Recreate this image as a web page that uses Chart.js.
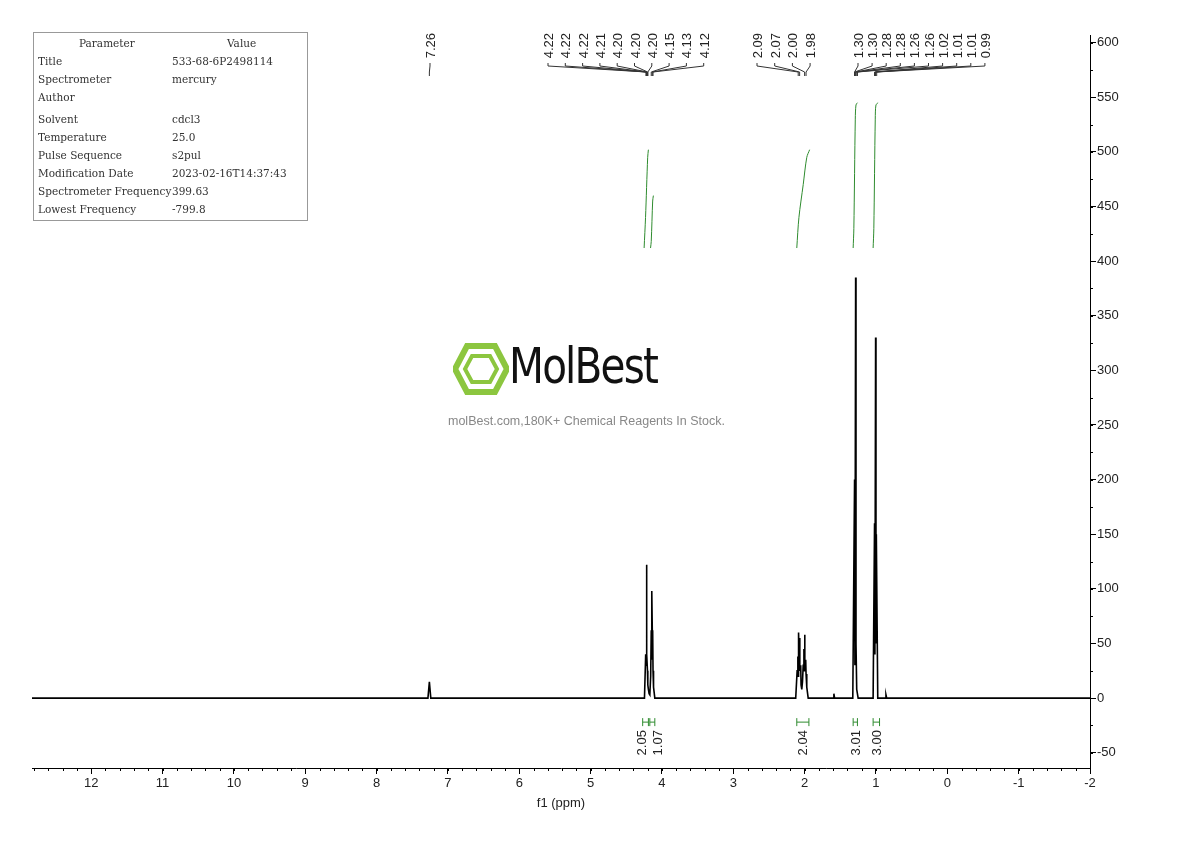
<!DOCTYPE html>
<html>
<head>
<meta charset="utf-8">
<script src="https://cdn.jsdelivr.net/npm/chart.js@4"></script>
<style>
  body { margin: 0; background: #fff; }
  #wrap { position: relative; width: 1190px; height: 841px; }
  #params { position: absolute; left: 33px; top: 32px; width: 275px; height: 189px; border: 1px solid #999;
    font-family: "DejaVu Serif", "Liberation Serif", serif; font-size: 10.5px; color: #333; box-sizing: border-box; }
  #params div { position: absolute; white-space: nowrap; }
  #logo { position: absolute; left: 453px; top: 343px; font-family: "DejaVu Sans Condensed", "Liberation Sans Narrow", sans-serif; }
  #slogan { position: absolute; left: 448px; top: 414px; font-family: "Liberation Sans", Arial, sans-serif; font-size: 12.5px; color: #888; }
</style>
</head>
<body>
<div id="wrap">
  <canvas id="grafico" width="1190" height="841"></canvas>
  <div id="params"></div>
  <div id="logo">
    <svg width="56" height="52" viewBox="0 0 56 52" style="position:absolute;left:0;top:0">
      <polygon points="14,3 42,3 54,26 42,49 14,49 2,26" fill="none" stroke="#8cc63f" stroke-width="6"/>
      <polygon points="19,13 37,13 44,26 37,39 19,39 12,26" fill="none" stroke="#8cc63f" stroke-width="4"/>
    </svg>
    <div style="position:absolute;left:56px;top:-6px;font-size:50px;letter-spacing:-2px;color:#111;transform:scaleX(0.9);transform-origin:left top;white-space:nowrap">MolBest</div>
  </div>
  <div id="slogan">molBest.com,180K+ Chemical Reagents In Stock.</div>
</div>
<script>
// Tabela de parâmetros
const PARAMETROS = [
  ["Title", "533-68-6P2498114"],
  ["Spectrometer", "mercury"],
  ["Author", ""],
  ["Solvent", "cdcl3"],
  ["Temperature", "25.0"],
  ["Pulse Sequence", "s2pul"],
  ["Modification Date", "2023-02-16T14:37:43"],
  ["Spectrometer Frequency", "399.63"],
  ["Lowest Frequency", "-799.8"],
];

// Espectro: deslocamento (ppm) e intensidade
const ESPECTRO_PPM = [12.83, 7.28, 7.26, 7.24, 4.245, 4.228, 4.222, 4.218, 4.214, 4.21, 4.203, 4.198, 4.19, 4.18, 4.17, 4.158, 4.15, 4.145, 4.14, 4.135, 4.13, 4.125, 4.118, 4.10,
  2.125, 2.105, 2.095, 2.09, 2.085, 2.075, 2.07, 2.065, 2.055, 2.05, 2.04, 2.03, 2.02, 2.01, 2.005, 2.00, 1.995, 1.985, 1.98, 1.97, 1.95, 1.60, 1.59, 1.58,
  1.325, 1.30, 1.295, 1.285, 1.28, 1.27, 1.25, 1.04, 1.02, 1.015, 1.005, 1.00, 0.995, 0.975, 0.87, 0.86, 0.85, -2];
const ESPECTRO_INT = [0, 0, 15, 0, 0, 40, 30, 122, 118, 40, 25, 12, 8, 4, 3, 20, 62, 35, 98, 60, 62, 25, 10, 0,
  0, 25, 38, 20, 60, 30, 55, 25, 30, 12, 8, 15, 30, 45, 25, 58, 30, 35, 22, 10, 0, 0, 4, 0,
  0, 200, 30, 385, 50, 8, 0, 0, 160, 40, 330, 50, 150, 0, 0, 3, 0, 0];

// Curvas de integração
const INTEGRAIS = [
  { ppm: [4.25, 4.23, 4.20, 4.19], y: [412, 440, 495, 502] },
  { ppm: [4.16, 4.15, 4.13, 4.12], y: [412, 418, 455, 460] },
  { ppm: [2.11, 2.08, 2.02, 1.97, 1.93], y: [412, 440, 470, 495, 502] },
  { ppm: [1.32, 1.31, 1.29, 1.28, 1.26], y: [412, 430, 530, 543, 545] },
  { ppm: [1.04, 1.03, 1.01, 1.00, 0.97], y: [412, 430, 530, 543, 545] },
];
const INTEGRAL_ROTULOS = ["2.05", "1.07", "2.04", "3.01", "3.00"];
const INTEGRAL_PPM = [4.29, 4.07, 2.03, 1.29, 1.00];
const INTEGRAL_FAIXA = [[4.27, 4.19], [4.17, 4.10], [2.11, 1.94], [1.32, 1.26], [1.04, 0.95]];

// Rótulos de picos (grupos)
const PICOS_GRUPOS = [
  { rotulos: ["7.26"], ppm: [7.26] },
  { rotulos: ["4.22", "4.22", "4.22", "4.21", "4.20", "4.20", "4.20", "4.15", "4.13", "4.12"],
    ppm: [4.222, 4.22, 4.218, 4.214, 4.205, 4.20, 4.198, 4.15, 4.135, 4.125] },
  { rotulos: ["2.09", "2.07", "2.00", "1.98"], ppm: [2.09, 2.07, 2.00, 1.98] },
  { rotulos: ["1.30", "1.30", "1.28", "1.28", "1.26", "1.26", "1.02", "1.01", "1.01", "0.99"],
    ppm: [1.30, 1.30, 1.285, 1.28, 1.265, 1.26, 1.02, 1.01, 1.005, 0.99] },
];
const PICOS_INICIO_X = [430, 548, 757, 858];
const PICOS_PASSO = [0, 17.3, 17.7, 14.1];

const VERDE = "#2e8b2e";

// Monta tabela
const params = document.getElementById("params");
params.innerHTML = '<div style="left:45px;top:4px">Parameter</div><div style="left:193px;top:4px">Value</div>';
const topos = [22, 40, 58, 80, 98, 116, 134, 152, 170];
PARAMETROS.forEach((p, i) => {
  params.innerHTML += `<div style="left:4px;top:${topos[i]}px">${p[0]}</div><div style="left:138px;top:${topos[i]}px">${p[1]}</div>`;
});

const pontos = (xs, ys) => xs.map((x, i) => ({ x, y: ys[i] }));

const datasets = [
  { data: pontos(ESPECTRO_PPM, ESPECTRO_INT), borderColor: "#000", borderWidth: 1.6 },
];
INTEGRAIS.forEach((c) => {
  datasets.push({ data: pontos(c.ppm, c.y), borderColor: VERDE, borderWidth: 1, tension: 0.3 });
});
INTEGRAL_FAIXA.forEach((f) => {
  datasets.push({ data: [{ x: f[0], y: -22 }, { x: f[1], y: -22 }], borderColor: VERDE, borderWidth: 1 });
});

const plugins = [{
  id: "anotacoes",
  afterDatasetsDraw(chart) {
    const ctx = chart.ctx;
    const xs = chart.scales.x, ys = chart.scales.y;
    ctx.save();
    // marcas menores
    ctx.strokeStyle = "#000"; ctx.lineWidth = 1;
    for (let v = -2; v <= 12.8; v += 0.2) {
      const px = Math.round(xs.getPixelForValue(v)) + 0.5;
      ctx.beginPath(); ctx.moveTo(px, ys.bottom); ctx.lineTo(px, ys.bottom + 3); ctx.stroke();
    }
    for (let v = -50; v <= 600; v += 25) {
      const py = Math.round(ys.getPixelForValue(v)) + 0.5;
      ctx.beginPath(); ctx.moveTo(xs.right, py); ctx.lineTo(xs.right + 3, py); ctx.stroke();
    }
    // integrais: hastes e textos
    ctx.strokeStyle = VERDE; ctx.fillStyle = "#222";
    ctx.font = "13px 'Liberation Sans', Arial, sans-serif";
    INTEGRAL_FAIXA.forEach((f, i) => {
      const y = ys.getPixelForValue(-22);
      f.forEach((v) => {
        const px = xs.getPixelForValue(v);
        ctx.beginPath(); ctx.moveTo(px, y - 4); ctx.lineTo(px, y + 4); ctx.stroke();
      });
      const cx = xs.getPixelForValue(INTEGRAL_PPM[i]);
      ctx.save(); ctx.translate(cx + 5, y + 8); ctx.rotate(-Math.PI / 2);
      ctx.textAlign = "right"; ctx.fillText(INTEGRAL_ROTULOS[i], 0, 0); ctx.restore();
    });
    // rótulos de picos
    ctx.strokeStyle = "#333";
    PICOS_GRUPOS.forEach((g, gi) => {
      g.rotulos.forEach((r, i) => {
        const lx = PICOS_INICIO_X[gi] + i * PICOS_PASSO[gi];
        const px = xs.getPixelForValue(g.ppm[i]);
        ctx.save(); ctx.translate(lx + 5, 33); ctx.rotate(-Math.PI / 2);
        ctx.textAlign = "right"; ctx.fillStyle = "#222"; ctx.fillText(r, 0, 0); ctx.restore();
        ctx.beginPath();
        ctx.moveTo(lx, 63); ctx.lineTo(lx, 66); ctx.lineTo(px, 72); ctx.lineTo(px, 76);
        ctx.stroke();
      });
    });
    ctx.restore();
  },
}];

new Chart(document.getElementById("grafico"), {
  type: "line",
  data: { datasets },
  plugins,
  options: {
    responsive: false,
    animation: false,
    parsing: false,
    layout: { padding: { left: 32, top: 35, right: 0, bottom: 30 } },
    elements: { point: { radius: 0 }, line: { tension: 0 } },
    plugins: { legend: { display: false }, tooltip: { enabled: false } },
    scales: {
      x: {
        type: "linear", reverse: true, min: -2, max: 12.83,
        afterFit: (s) => { s.height = 43; },
        afterBuildTicks: (s) => { s.ticks = [-2, -1, 0, 1, 2, 3, 4, 5, 6, 7, 8, 9, 10, 11, 12].map((v) => ({ value: v })); },
        grid: { display: true, drawOnChartArea: false, tickLength: 6, color: "#000" },
        border: { color: "#000" },
        ticks: { color: "#222", font: { size: 13, family: "Liberation Sans" }, padding: 2, maxRotation: 0 },
        title: { display: true, text: "f1 (ppm)", color: "#222", font: { size: 13, family: "Liberation Sans" }, padding: 0 },
      },
      y: {
        position: "right", min: -64, max: 607,
        afterFit: (s) => { s.width = 100; },
        afterBuildTicks: (s) => { s.ticks = [-50, 0, 50, 100, 150, 200, 250, 300, 350, 400, 450, 500, 550, 600].map((v) => ({ value: v })); },
        grid: { display: true, drawOnChartArea: false, tickLength: 6, color: "#000" },
        border: { color: "#000" },
        ticks: { color: "#222", font: { size: 13, family: "Liberation Sans" }, padding: 1 },
      },
    },
  },
});
</script>
</body>
</html>
